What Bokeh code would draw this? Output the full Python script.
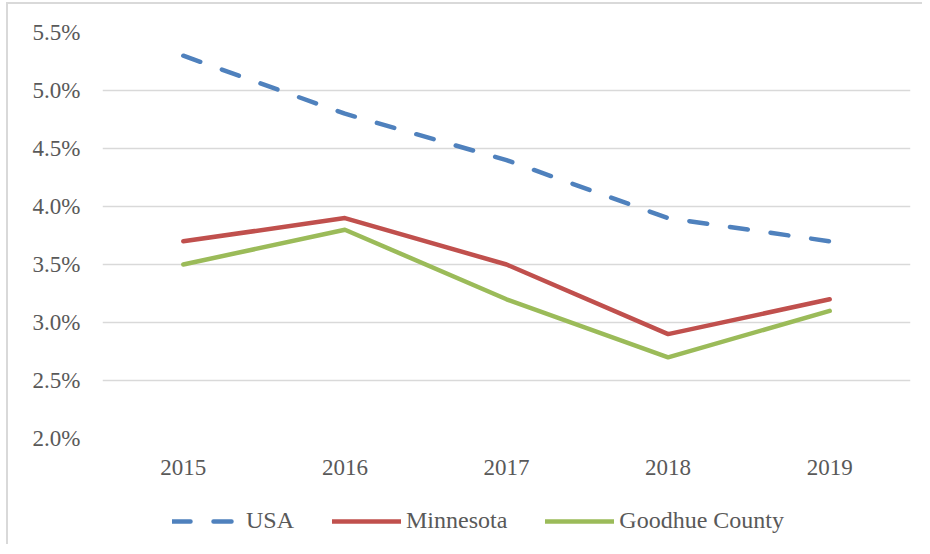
from bokeh.plotting import figure
from bokeh.layouts import column
from bokeh.models import Legend, LegendItem, PrintfTickFormatter, FixedTicker, Range1d
from bokeh.embed import file_html
from bokeh.resources import INLINE

years = ["2015", "2016", "2017", "2018", "2019"]
usa = [5.3, 4.8, 4.4, 3.9, 3.7]
minnesota = [3.7, 3.9, 3.5, 2.9, 3.2]
goodhue = [3.5, 3.8, 3.2, 2.7, 3.1]
y_ticks = [2.0, 2.5, 3.0, 3.5, 4.0, 4.5, 5.0, 5.5]
series_names = ["USA", "Minnesota", "Goodhue County"]

FONT = "Liberation Serif"
TXT = "#595959"
COLORS = ["#4f81bd", "#c0504d", "#9bbb59"]
DASHES = ["18 23", "solid", "solid"]

p = figure(x_range=years, y_range=(2.0, 5.5), width=914, height=486,
           output_backend="svg", toolbar_location=None,
           min_border_left=94, min_border_right=12, min_border_top=28, min_border_bottom=52)
p.outline_line_color = None

for vals, c, d in zip([usa, minnesota, goodhue], COLORS, DASHES):
    p.line(years, vals, line_color=c, line_width=4.5, line_dash=d,
           line_cap="round", line_join="round")

p.xgrid.grid_line_color = None
p.ygrid.grid_line_color = "#d9d9d9"
p.ygrid.grid_line_width = 1.5
p.yaxis.ticker = FixedTicker(ticks=y_ticks)
p.yaxis.formatter = PrintfTickFormatter(format="%.1f%%")

for ax in (p.xaxis[0], p.yaxis[0]):
    ax.axis_line_color = None
    ax.major_tick_line_color = None
    ax.minor_tick_line_color = None
    ax.major_label_text_font = FONT
    ax.major_label_text_font_size = "23px"
    ax.major_label_text_color = TXT
p.yaxis.major_label_standoff = 16
p.xaxis.major_label_standoff = 15

# legend strip below the chart: same series drawn outside its visible range,
# only their legend glyphs show
q = figure(x_range=years, y_range=Range1d(100, 101), width=914, height=54,
           x_axis_type=None, y_axis_type=None,
           output_backend="svg", toolbar_location=None,
           min_border_left=0, min_border_right=0, min_border_top=0, min_border_bottom=0)
q.outline_line_color = None
q.grid.visible = False
items = []
for name, vals, c, d in zip(series_names, [usa, minnesota, goodhue], COLORS, DASHES):
    r = q.line(years, vals, line_color=c, line_width=4.5, line_dash=d,
               line_cap="round", line_join="round")
    items.append(LegendItem(label=name, renderers=[r]))

legend = Legend(items=items, orientation="horizontal", location=(70, 10),
                glyph_width=69, glyph_height=20, label_standoff=5, spacing=38,
                padding=0, margin=0, border_line_color=None, background_fill_alpha=0,
                label_text_font=FONT, label_text_font_size="24px", label_text_color=TXT)
q.add_layout(legend, "center")

layout = column(p, q, spacing=0)
layout.styles = {"margin-left": "6px", "margin-top": "2px",
                 "border-left": "2px solid #d9d9d9", "border-top": "2px solid #d9d9d9"}

open("out.html", "w").write(file_html(layout, INLINE))
